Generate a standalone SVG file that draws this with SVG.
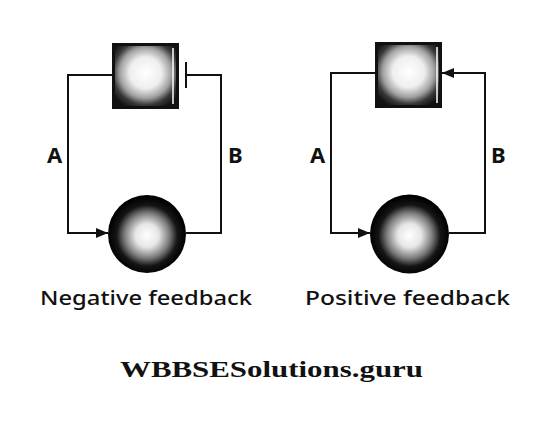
<svg xmlns="http://www.w3.org/2000/svg" width="559" height="425" viewBox="0 0 559 425">
<defs>
<radialGradient id="sq" cx="50%" cy="45%" r="62%">
<stop offset="0" stop-color="#ffffff"/>
<stop offset="0.4" stop-color="#eeeeee"/>
<stop offset="0.65" stop-color="#a0a0a0"/>
<stop offset="0.82" stop-color="#3a3a3a"/>
<stop offset="1" stop-color="#111"/>
</radialGradient>
<radialGradient id="ci" cx="50%" cy="52%" r="50%">
<stop offset="0" stop-color="#ffffff"/>
<stop offset="0.3" stop-color="#e6e6e6"/>
<stop offset="0.58" stop-color="#7a7a7a"/>
<stop offset="0.78" stop-color="#151515"/>
<stop offset="1" stop-color="#000"/>
</radialGradient>
<marker id="arr" viewBox="0 0 12 10" refX="12" refY="5" markerWidth="12" markerHeight="10" markerUnits="userSpaceOnUse" orient="auto">
<path d="M0,0 L12,5 L0,10 z" fill="#111"/>
</marker>
<style>
.w{fill:none;stroke:#111;stroke-width:2}
.sqr{fill:url(#sq);stroke:#111;stroke-width:3}
.cir{fill:url(#ci)}
.hl{stroke:#fff;stroke-width:1.5}
.lb{font-family:"Noto Sans","Liberation Sans",sans-serif;font-size:22px;font-weight:bold;fill:#111}
.cap{font-family:"Noto Sans","Liberation Sans",sans-serif;font-size:19px;font-weight:500;fill:#111}
.wm{font-family:"Liberation Serif",serif;font-size:24px;font-weight:bold;fill:#111}
</style>
</defs>
<g id="connectors">
<polyline class="w" points="112,75 68,75 68,233 108,233" marker-end="url(#arr)"/>
<polyline class="w" points="186,233 221,233 221,75 187,75"/>
<line class="w" x1="186" y1="62" x2="186" y2="88"/>
<polyline class="w" points="375,73 331,73 331,233 370,233" marker-end="url(#arr)"/>
<polyline class="w" points="449,233 485,233 485,73 442,73" marker-end="url(#arr)"/>
</g>
<g id="neg-effector">
<rect class="sqr" x="113.5" y="44.5" width="64" height="63"/>
<line class="hl" x1="173" y1="48" x2="173" y2="104"/>
</g>
<g id="neg-receptor">
<circle class="cir" cx="147" cy="234" r="39"/>
</g>
<g id="pos-effector">
<rect class="sqr" x="376.5" y="43.5" width="64" height="63"/>
<line class="hl" x1="437" y1="47" x2="437" y2="103"/>
</g>
<g id="pos-receptor">
<circle class="cir" cx="409.5" cy="234" r="39.5"/>
</g>
<g id="labels">
<text class="lb" x="47" y="163">A</text>
<text class="lb" x="228" y="163">B</text>
<text class="lb" x="310" y="163">A</text>
<text class="lb" x="491" y="163">B</text>
<text class="cap" x="40" y="305" textLength="212" lengthAdjust="spacingAndGlyphs">Negative feedback</text>
<text class="cap" x="305" y="305" textLength="205" lengthAdjust="spacingAndGlyphs">Positive feedback</text>
<text class="wm" x="120" y="377" textLength="303" lengthAdjust="spacingAndGlyphs">WBBSESolutions.guru</text>
</g>
</svg>
